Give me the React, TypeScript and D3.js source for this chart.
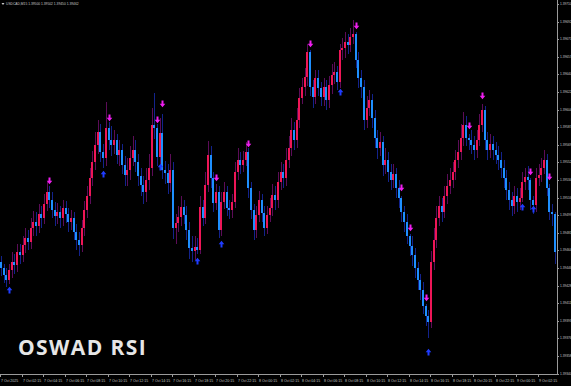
import React from 'react';
import * as d3 from 'd3';

// USDCAD M15, bar 0 = 7 Oct 00:15
const firstOpen = 1.39452;
const close = [
  1.39446, 1.39439, 1.39434, 1.39444, 1.39452, 1.39449, 1.39462, 1.39459, 1.39469, 1.39476,
  1.39472, 1.39486, 1.39492, 1.39488, 1.39500, 1.39496, 1.39510, 1.39522, 1.39514, 1.39504,
  1.39498, 1.39502, 1.39496, 1.39506, 1.39500, 1.39492, 1.39496, 1.39482, 1.39474, 1.39469,
  1.39486, 1.39504, 1.39518, 1.39536, 1.39552, 1.39569, 1.39582, 1.39562, 1.39556, 1.39586,
  1.39574, 1.39569, 1.39574, 1.39559, 1.39564, 1.39549, 1.39539, 1.39544, 1.39556, 1.39564,
  1.39552, 1.39538, 1.39529, 1.39522, 1.39534, 1.39546, 1.39589, 1.39586, 1.39557, 1.39581,
  1.39544, 1.39541, 1.39531, 1.39544, 1.39486, 1.39491, 1.39497, 1.39507, 1.39499, 1.39484,
  1.39466, 1.39463, 1.39467, 1.39464, 1.39507, 1.39496, 1.39529, 1.39559, 1.39536, 1.39511,
  1.39522, 1.39484, 1.39512, 1.39522, 1.39506, 1.39504, 1.39512, 1.39542, 1.39554, 1.39549,
  1.39554, 1.39562, 1.39526, 1.39504, 1.39484, 1.39499, 1.39514, 1.39501, 1.39486, 1.39499,
  1.39506, 1.39519, 1.39514, 1.39532, 1.39542, 1.39536, 1.39554, 1.39566, 1.39584, 1.39574,
  1.39594, 1.39616, 1.39627, 1.39637, 1.39662, 1.39627, 1.39617, 1.39636, 1.39626, 1.39617,
  1.39627, 1.39614, 1.39629, 1.39639, 1.39642, 1.39632, 1.39664, 1.39666, 1.39672, 1.39669,
  1.39677, 1.39680, 1.39654, 1.39636, 1.39627, 1.39594, 1.39606, 1.39614, 1.39596, 1.39576,
  1.39566, 1.39572, 1.39549, 1.39554, 1.39542, 1.39534, 1.39540, 1.39526, 1.39516, 1.39502,
  1.39492, 1.39478, 1.39468, 1.39459, 1.39446, 1.39434, 1.39424, 1.39408, 1.39398, 1.39392,
  1.39452, 1.39474, 1.39496, 1.39508, 1.39502, 1.39518, 1.39528, 1.39534, 1.39542, 1.39554,
  1.39562, 1.39576, 1.39589, 1.39576, 1.39574, 1.39569, 1.39564, 1.39574, 1.39589, 1.39604,
  1.39574, 1.39564, 1.39570, 1.39564, 1.39559, 1.39554, 1.39546, 1.39536, 1.39524, 1.39514,
  1.39508, 1.39518, 1.39512, 1.39516, 1.39532, 1.39537, 1.39534, 1.39514, 1.39509, 1.39536,
  1.39539, 1.39546, 1.39554, 1.39526, 1.39502, 1.39500, 1.39462,
];
const high = [
  1.39458, 1.39450, 1.39446, 1.39450, 1.39462, 1.39460, 1.39470, 1.39470, 1.39478, 1.39486,
  1.39484, 1.39496, 1.39503, 1.39502, 1.39510, 1.39508, 1.39520, 1.39532, 1.39528, 1.39522,
  1.39512, 1.39511, 1.39508, 1.39514, 1.39513, 1.39506, 1.39504, 1.39502, 1.39490, 1.39482,
  1.39494, 1.39513, 1.39528, 1.39546, 1.39563, 1.39582, 1.39594, 1.39590, 1.39570, 1.39612,
  1.39592, 1.39588, 1.39584, 1.39580, 1.39574, 1.39570, 1.39558, 1.39556, 1.39568, 1.39578,
  1.39574, 1.39560, 1.39546, 1.39538, 1.39546, 1.39560, 1.39606, 1.39621, 1.39590, 1.39596,
  1.39600, 1.39553, 1.39550, 1.39560, 1.39552, 1.39500, 1.39508, 1.39518, 1.39514, 1.39508,
  1.39492, 1.39478, 1.39478, 1.39476, 1.39518, 1.39514, 1.39542, 1.39573, 1.39568, 1.39542,
  1.39530, 1.39528, 1.39522, 1.39532, 1.39528, 1.39514, 1.39520, 1.39552, 1.39566, 1.39562,
  1.39563, 1.39572, 1.39566, 1.39532, 1.39510, 1.39508, 1.39523, 1.39520, 1.39508, 1.39508,
  1.39516, 1.39530, 1.39528, 1.39542, 1.39552, 1.39550, 1.39566, 1.39578, 1.39596, 1.39592,
  1.39606, 1.39626, 1.39636, 1.39646, 1.39670, 1.39664, 1.39634, 1.39644, 1.39644, 1.39632,
  1.39636, 1.39634, 1.39638, 1.39650, 1.39652, 1.39648, 1.39670, 1.39676, 1.39682, 1.39680,
  1.39686, 1.39694, 1.39682, 1.39662, 1.39644, 1.39634, 1.39618, 1.39624, 1.39620, 1.39604,
  1.39584, 1.39582, 1.39578, 1.39566, 1.39562, 1.39550, 1.39550, 1.39546, 1.39534, 1.39518,
  1.39508, 1.39500, 1.39480, 1.39478, 1.39466, 1.39452, 1.39440, 1.39432, 1.39410, 1.39404,
  1.39463, 1.39486, 1.39508, 1.39518, 1.39516, 1.39528, 1.39540, 1.39546, 1.39552, 1.39564,
  1.39574, 1.39590, 1.39602, 1.39598, 1.39580, 1.39584, 1.39578, 1.39584, 1.39600, 1.39610,
  1.39608, 1.39582, 1.39580, 1.39578, 1.39572, 1.39568, 1.39562, 1.39554, 1.39544, 1.39532,
  1.39522, 1.39528, 1.39526, 1.39526, 1.39542, 1.39546, 1.39548, 1.39536, 1.39518, 1.39546,
  1.39550, 1.39556, 1.39564, 1.39560, 1.39530, 1.39510, 1.39502,
];
const low = [
  1.39438, 1.39431, 1.39427, 1.39430, 1.39436, 1.39440, 1.39442, 1.39450, 1.39452, 1.39461,
  1.39464, 1.39465, 1.39478, 1.39478, 1.39481, 1.39486, 1.39490, 1.39503, 1.39506, 1.39496,
  1.39488, 1.39490, 1.39486, 1.39488, 1.39491, 1.39482, 1.39484, 1.39474, 1.39464, 1.39458,
  1.39462, 1.39478, 1.39496, 1.39510, 1.39528, 1.39544, 1.39560, 1.39552, 1.39546, 1.39548,
  1.39564, 1.39558, 1.39560, 1.39550, 1.39548, 1.39540, 1.39528, 1.39528, 1.39534, 1.39548,
  1.39542, 1.39528, 1.39518, 1.39510, 1.39512, 1.39524, 1.39538, 1.39575, 1.39548, 1.39550,
  1.39535, 1.39530, 1.39520, 1.39522, 1.39475, 1.39470, 1.39482, 1.39488, 1.39490, 1.39474,
  1.39455, 1.39452, 1.39454, 1.39460, 1.39460, 1.39488, 1.39490, 1.39522, 1.39526, 1.39502,
  1.39504, 1.39476, 1.39478, 1.39505, 1.39498, 1.39495, 1.39496, 1.39506, 1.39534, 1.39540,
  1.39542, 1.39548, 1.39516, 1.39495, 1.39474, 1.39476, 1.39492, 1.39492, 1.39478, 1.39480,
  1.39492, 1.39498, 1.39504, 1.39506, 1.39524, 1.39526, 1.39528, 1.39546, 1.39558, 1.39564,
  1.39566, 1.39586, 1.39610, 1.39618, 1.39628, 1.39618, 1.39606, 1.39610, 1.39618, 1.39608,
  1.39608, 1.39604, 1.39606, 1.39620, 1.39630, 1.39624, 1.39626, 1.39654, 1.39656, 1.39660,
  1.39662, 1.39670, 1.39646, 1.39626, 1.39616, 1.39584, 1.39586, 1.39598, 1.39586, 1.39566,
  1.39555, 1.39558, 1.39538, 1.39540, 1.39532, 1.39524, 1.39526, 1.39516, 1.39506, 1.39492,
  1.39482, 1.39470, 1.39458, 1.39448, 1.39436, 1.39424, 1.39414, 1.39400, 1.39388, 1.39376,
  1.39386, 1.39444, 1.39466, 1.39488, 1.39492, 1.39496, 1.39510, 1.39520, 1.39526, 1.39534,
  1.39546, 1.39554, 1.39568, 1.39568, 1.39564, 1.39560, 1.39554, 1.39556, 1.39568, 1.39582,
  1.39564, 1.39554, 1.39556, 1.39554, 1.39550, 1.39544, 1.39536, 1.39526, 1.39514, 1.39504,
  1.39498, 1.39500, 1.39502, 1.39504, 1.39512, 1.39524, 1.39524, 1.39504, 1.39500, 1.39502,
  1.39528, 1.39532, 1.39540, 1.39518, 1.39494, 1.39488, 1.39450,
];

// indicator signals: [bar index, price]
const sellArrows: [number, number][] = [
  [18, 1.39533], [40, 1.39596], [58, 1.39594], [60, 1.39610], [80, 1.39536],
  [92, 1.39570], [115, 1.39670], [132, 1.39688], [149, 1.39526], [152, 1.39486],
  [158, 1.39416], [174, 1.39588], [179, 1.39618], [197, 1.39542], [204, 1.39537],
];
const buyArrows: [number, number][] = [
  [3, 1.39424], [38, 1.39540], [59, 1.39547], [73, 1.39453], [82, 1.39470],
  [126, 1.39622], [159, 1.39362], [194, 1.39507], [198, 1.39505],
];

const priceLabels = [
  1.39710, 1.39692, 1.39675, 1.39657, 1.39640, 1.39622, 1.39604, 1.39587, 1.39569, 1.39552,
  1.39534, 1.39516, 1.39499, 1.39481, 1.39464, 1.39446, 1.39428, 1.39411, 1.39393, 1.39376,
  1.39358, 1.39340,
];
const timeLabels = [
  '7 Oct 2025', '7 Oct 02:15', '7 Oct 04:15', '7 Oct 06:15', '7 Oct 08:15', '7 Oct 10:15',
  '7 Oct 12:15', '7 Oct 14:15', '7 Oct 16:15', '7 Oct 18:15', '7 Oct 20:15', '7 Oct 22:15',
  '8 Oct 00:15', '8 Oct 02:15', '8 Oct 04:15', '8 Oct 06:15', '8 Oct 08:15', '8 Oct 10:15',
  '8 Oct 12:15', '8 Oct 14:15', '8 Oct 16:15', '8 Oct 18:15', '8 Oct 20:15', '8 Oct 22:15',
  '9 Oct 00:15', '9 Oct 02:15',
];
const timeLabelBars = [
  0, 8, 16, 24, 32, 40, 48, 56, 64, 72, 80, 88, 96, 104, 112, 120, 128, 136, 144, 152,
  160, 168, 176, 184, 192, 200,
];
const symbol = 'USDCAD,M15';
const title = 'OSWAD RSI';

export default function App() {
  const W = 571;
  const H = 386;
  const plotRight = 557;
  const plotBottom = 374;
  const n = close.length;
  const x = d3.scaleLinear().domain([0, n - 1]).range([1, 1 + (n - 1) * 2.6875]);
  const y = d3.scaleLinear().domain([1.39714, 1.3934]).range([0, plotBottom]);
  const open = close.map((c, i) => (i === 0 ? firstOpen : close[i - 1]));
  const fmt = d3.format('.5f');

  const bullBody = '#ee1657';
  const bearBody = '#1e8fff';
  const bullWick = '#5c0c58';
  const bearWick = '#13238c';
  const sellColor = '#f01ef0';
  const buyColor = '#1f3cff';
  const txt = '#c8c8c8';
  const font = '"Liberation Sans", Arial, sans-serif';

  const last = n - 1;
  const header = `${symbol}  ${fmt(open[last])} ${fmt(high[last])} ${fmt(low[last])} ${fmt(close[last])}`;

  const downArrow = (cx: number, cy: number) =>
    `M${cx - 1},${cy - 3.5}h2v3.2h1.8l-2.8,3.5l-2.8,-3.5h1.8z`;
  const upArrow = (cx: number, cy: number) =>
    `M${cx - 1},${cy + 3.5}h2v-3.2h1.8l-2.8,-3.5l-2.8,3.5h1.8z`;

  return (
    <svg
      width={W}
      height={H}
      style={{ position: 'absolute', left: 0, top: 0, display: 'block' }}
      xmlns="http://www.w3.org/2000/svg"
    >
      <rect x={0} y={0} width={W} height={H} fill="#000" />
      <g shapeRendering="crispEdges">
        {close.map((c, i) => {
          const o = open[i];
          const bull = c >= o;
          const px = Math.round(x(i));
          const yTop = y(Math.max(o, c));
          const yBot = y(Math.min(o, c));
          return (
            <g key={i}>
              <rect
                x={px}
                y={y(high[i])}
                width={1}
                height={Math.max(1, y(low[i]) - y(high[i]))}
                fill={bull ? bullWick : bearWick}
              />
              <rect
                x={px - 1}
                y={yTop}
                width={2}
                height={Math.max(1, yBot - yTop)}
                fill={bull ? bullBody : bearBody}
              />
            </g>
          );
        })}
      </g>
      {sellArrows.map(([i, p], k) => (
        <path key={'s' + k} d={downArrow(Math.round(x(i)) + 0.5, y(p))} fill={sellColor} />
      ))}
      {buyArrows.map(([i, p], k) => (
        <path key={'b' + k} d={upArrow(Math.round(x(i)) + 0.5, y(p))} fill={buyColor} />
      ))}

      {/* axes */}
      <line x1={plotRight + 0.5} x2={plotRight + 0.5} y1={0} y2={plotBottom + 1} stroke="#9a9a9a" strokeWidth={1} />
      <line x1={0} x2={plotRight + 1} y1={plotBottom + 0.5} y2={plotBottom + 0.5} stroke="#9a9a9a" strokeWidth={1} />
      {priceLabels.map((p, k) => (
        <g key={'p' + k}>
          <line x1={plotRight} x2={plotRight + 2} y1={Math.round(y(p)) + 0.5} y2={Math.round(y(p)) + 0.5} stroke="#9a9a9a" />
          <text x={560} y={y(p) + 1.1} fontSize={3.2} fill={txt} fontFamily={font}>
            {fmt(p)}
          </text>
        </g>
      ))}
      {timeLabels.map((t, k) => {
        const tx = Math.round(x(timeLabelBars[k])) - 1;
        return (
          <g key={'t' + k}>
            <line x1={tx + 0.5} x2={tx + 0.5} y1={plotBottom} y2={plotBottom + 3} stroke="#9a9a9a" />
            <text x={tx + 1} y={381.5} fontSize={3.5} fill={txt} fontFamily={font}>
              {t}
            </text>
          </g>
        );
      })}

      {/* header */}
      <path d="M1.5,3 L4.5,3 L3,5 Z" fill={txt} />
      <text x={6} y={5} fontSize={3.3} fill={txt} fontFamily={font}>
        {header}
      </text>

      <text
        x={18}
        y={355}
        fontSize={21}
        fontWeight={700}
        fill="#e6e6e6"
        fontFamily='"Open Sans", "DejaVu Sans", sans-serif'
        letterSpacing={1.4}
      >
        {title}
      </text>
    </svg>
  );
}
